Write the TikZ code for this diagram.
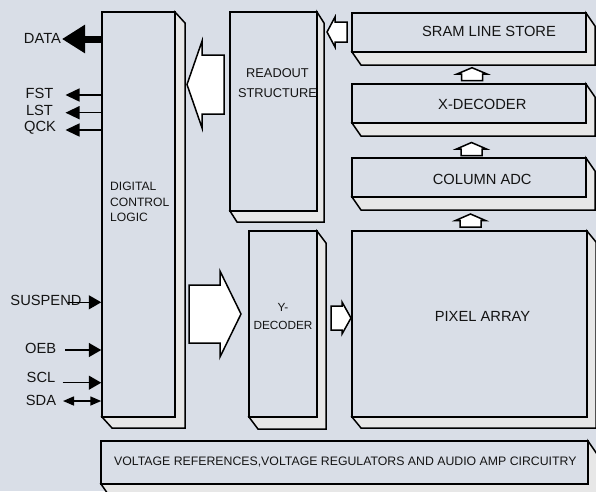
\documentclass[tikz,border=0pt]{standalone}
\usepackage{fontspec}
\setmainfont{Liberation Sans}
\usetikzlibrary{arrows.meta}

\definecolor{panel}{RGB}{217,222,231}
\definecolor{depth}{RGB}{231,231,231}
\definecolor{ink}{RGB}{20,20,20}

\tikzset{
  outline/.style={draw=black, line width=1.5pt, line join=miter},
  face/.style={outline, fill=panel, rectangle, inner sep=0pt},
  side/.style={outline, fill=depth},
  blockarrow/.style={outline, fill=white},
  lbl/.style={text=ink, inner sep=0pt, font=\fontsize{14.7}{17}\selectfont},
  sig/.style={draw=black, line width=1.5pt},
  outtip/.style={-{Triangle[length=14pt,width=13pt]}},
  intip/.style={-{Triangle[length=12.5pt,width=14pt]}},
}

% raised block: name, x1, y1, x2, y2 of the front face, depth dx, dy
\newcommand\cubebox[7]{%
  \draw[side] (#4,#3) -- ({#4+#6},{#3+#7}) -- ({#4+#6},{#5+#7})
    -- ({#2+#6},{#5+#7}) -- (#2,#5) -- (#4,#5) -- cycle;
  \node[face, minimum width={(#4-#2)*1pt}, minimum height={(#5-#3)*1pt}]
    (#1) at ({(#2+#4)/2},{(#3+#5)/2}) {};
}

% horizontal block arrow: tail x, head base x, tip x, centre y, stem half, head half
\newcommand\harrow[6]{%
  \draw[blockarrow] (#1,{#4-#5}) -- (#2,{#4-#5}) -- (#2,{#4-#6}) -- (#3,#4)
    -- (#2,{#4+#6}) -- (#2,{#4+#5}) -- (#1,{#4+#5}) -- cycle;
}
% vertical block arrow: tail y, head base y, tip y, centre x, stem half, head half
\newcommand\varrow[6]{%
  \draw[blockarrow] ({#4-#5},#1) -- ({#4-#5},#2) -- ({#4-#6},#2) -- (#4,#3)
    -- ({#4+#6},#2) -- ({#4+#5},#2) -- ({#4+#5},#1) -- cycle;
}

\begin{document}
\begin{tikzpicture}[x=1pt,y=-1pt]
\useasboundingbox (0,0) rectangle (596,491);
\fill[panel] (0,0) rectangle (596,491);
\clip (0,0) rectangle (596,491);

% blocks
\cubebox{dcl}{102}{12}{175}{417}{10}{11}
\cubebox{readout}{230}{12}{317}{211}{7}{11}
\cubebox{sram}{352}{13}{586}{52}{9}{13}
\cubebox{xdec}{352}{84}{586}{123}{9}{13}
\cubebox{adc}{352}{158}{586}{197}{9}{13}
\cubebox{ydec}{249}{231}{317}{417}{9}{12}
\cubebox{pixel}{352}{231}{587}{417}{9}{11}
\cubebox{vref}{101}{441}{588}{484}{9}{13}

% block labels
\node[lbl, align=left, anchor=north west, font=\fontsize{12.1}{15.2}\selectfont]
  (dcltext) at (110,182.3) {DIGITAL\\CONTROL\\LOGIC};
\node[lbl, align=center, font=\fontsize{12.8}{20}\selectfont]
  (rotext) at (277.5,83) {READOUT\\STRUCTURE};
\node[lbl] (sramtext) at (489,31) {SRAM LINE STORE};
\node[lbl] (xdectext) at (482.3,104) {X-DECODER};
\node[lbl] (adctext) at (482.2,179) {COLUMN ADC};
\node[lbl] (pixeltext) at (482.5,316) {PIXEL ARRAY};
\node[lbl, align=center, font=\fontsize{11.8}{18.7}\selectfont]
  (ydectext) at (283,316.5) {Y-\\DECODER};
\node[lbl, font=\fontsize{12.3}{14}\selectfont] (vreftext) at (345.3,461.7)
  {VOLTAGE REFERENCES,VOLTAGE REGULATORS AND AUDIO AMP CIRCUITRY};

% data-path block arrows
\harrow{224}{202}{187}{84.5}{29.5}{43.3}
\harrow{347}{335}{327}{32}{10}{15}
\harrow{189}{220}{241}{314}{29}{43}
\harrow{331}{342}{351}{318}{12}{16}
\varrow{80.7}{74}{67.7}{472}{10.5}{15}
\varrow{155.5}{149}{142.5}{471.5}{10.5}{15}
\varrow{227}{220.5}{214}{470.5}{10.5}{15}

% outputs
\node[lbl] (data) at (42.5,38.5) {DATA};
\coordinate (dataTip) at (62,39);
\draw[line width=7pt, -{Triangle[length=23pt,width=27pt]}]
  (dataTip -| dcl.west) -- (dataTip);

\node[lbl] (fst) at (39.5,93) {FST};
\node[lbl] (lst) at (39.5,110.5) {LST};
\node[lbl] (qck) at (40,128) {QCK};
\coordinate (fstTip) at (65.5,95);
\coordinate (lstTip) at (65.5,112.7);
\coordinate (qckTip) at (65.5,130);
\draw[sig, outtip] (fstTip -| dcl.west) -- (fstTip);
\draw[sig, outtip] (lstTip -| dcl.west) -- (lstTip);
\draw[sig, outtip] (qckTip -| dcl.west) -- (qckTip);

% inputs
\node[lbl] (suspend) at (46,300.5) {SUSPEND};
\node[lbl] (oeb) at (40.7,348.3) {OEB};
\node[lbl] (scl) at (41,377.5) {SCL};
\node[lbl] (sda) at (41,400) {SDA};
\coordinate (suspTail) at (68,302.3);
\coordinate (oebTail) at (65,350);
\coordinate (sclTail) at (62.7,382.7);
\coordinate (sdaEnd) at (63,401);
\draw[sig, intip] (suspTail) -- (suspTail -| dcl.west);
\draw[sig, intip] (oebTail) -- (oebTail -| dcl.west);
\draw[sig, intip] (sclTail) -- (sclTail -| dcl.west);
\draw[sig, {Triangle[length=11pt,width=9pt]}-{Triangle[length=11pt,width=9pt]}]
  (sdaEnd) -- (sdaEnd -| dcl.west);
\end{tikzpicture}
\end{document}
